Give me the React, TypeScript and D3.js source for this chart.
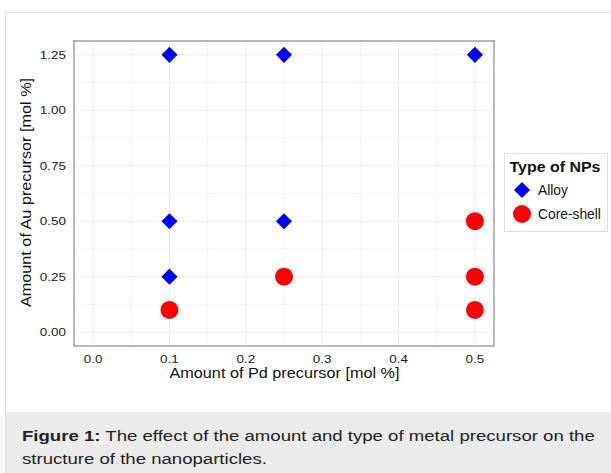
import React from 'react';
import * as d3 from 'd3';

const alloyPd = [0.1, 0.25, 0.5, 0.1, 0.25, 0.1];
const alloyAu = [1.25, 1.25, 1.25, 0.5, 0.5, 0.25];
const coreShellPd = [0.1, 0.25, 0.5, 0.5, 0.5];
const coreShellAu = [0.1, 0.25, 0.5, 0.25, 0.1];

const xTicks = [0, 0.1, 0.2, 0.3, 0.4, 0.5];
const yTicks = [0, 0.25, 0.5, 0.75, 1.0, 1.25];
const legendTitle = 'Type of NPs';
const legendLabels = ['Alloy', 'Core-shell'];

const font = 'Liberation Sans, Arial, sans-serif';

// text drawn a bit wider than the font, like the reference rendering
function Wide({ x, y, sx, rotate = 0, anchor = 'start', size, weight = 'normal', fill = '#111', dy, children }: any) {
  return (
    <g transform={`translate(${x},${y}) rotate(${rotate}) scale(${sx},1)`}>
      <text x={0} y={0} dy={dy} textAnchor={anchor} fontSize={size} fontWeight={weight} fill={fill}>{children}</text>
    </g>
  );
}

export default function App() {
  const W = 611, H = 473;
  const panel = { left: 74, right: 494, top: 41, bottom: 346 };

  const x = d3.scaleLinear().domain([-0.025, 0.525]).range([panel.left, panel.right]);
  const y = d3.scaleLinear().domain([-0.0625, 1.3125]).range([panel.bottom, panel.top]);

  const xMinor = d3.range(0.05, 0.5, 0.1);
  const yMinor = d3.range(0.125, 1.3, 0.25);

  const diamond = d3.symbol().type(d3.symbolSquare).size(130)();
  const circle = (r: number) => d3.symbol().type(d3.symbolCircle).size(Math.PI * r * r)();

  return (
    <svg width={W} height={H} style={{ position: 'absolute', left: 0, top: 0 }} fontFamily={font}>
      <rect x={0} y={0} width={W} height={H} fill="#fff" />
      {/* card */}
      <rect x={5.5} y={12.5} width={W} height={H} fill="#fff" stroke="#dcdcdc" />
      <rect x={6} y={412} width={W} height={H - 412} fill="#ebebeb" />

      {/* grid */}
      <g stroke="#f4f4f4" strokeWidth={1}>
        {xMinor.map((v, i) => <line key={'xm' + i} x1={x(v)} x2={x(v)} y1={panel.top} y2={panel.bottom} />)}
        {yMinor.map((v, i) => <line key={'ym' + i} x1={panel.left} x2={panel.right} y1={y(v)} y2={y(v)} />)}
      </g>
      <g stroke="#ececec" strokeWidth={1}>
        {xTicks.map((v, i) => <line key={'x' + i} x1={x(v)} x2={x(v)} y1={panel.top} y2={panel.bottom} />)}
        {yTicks.map((v, i) => <line key={'y' + i} x1={panel.left} x2={panel.right} y1={y(v)} y2={y(v)} />)}
      </g>

      {/* points */}
      {alloyPd.map((v, i) => (
        <path key={'a' + i} d={diamond!} fill="#0000ff"
          transform={`translate(${x(v)},${y(alloyAu[i])}) rotate(45)`} />
      ))}
      {coreShellPd.map((v, i) => (
        <path key={'c' + i} d={circle(9)!} fill="#ff0000"
          transform={`translate(${x(v)},${y(coreShellAu[i])})`} />
      ))}

      <rect x={panel.left} y={panel.top} width={panel.right - panel.left} height={panel.bottom - panel.top}
        fill="none" stroke="#a0a0a0" strokeWidth={1.5} />

      {/* tick labels */}
      {xTicks.map((v, i) => (
        <Wide key={'xt' + i} x={x(v)} y={362.5} sx={1.17} anchor="middle" size={11.5} fill="#222">
          {d3.format('.1f')(v)}
        </Wide>
      ))}
      {yTicks.map((v, i) => (
        <Wide key={'yt' + i} x={panel.left - 8} y={y(v)} dy="0.35em" sx={1.17} anchor="end" size={11.5} fill="#222">
          {d3.format('.2f')(v)}
        </Wide>
      ))}

      {/* axis titles */}
      <Wide x={(panel.left + panel.right) / 2 + 0.5} y={378} sx={1.16} anchor="middle" size={14}>
        Amount of Pd precursor [mol %]
      </Wide>
      <Wide x={30.5} y={(panel.top + panel.bottom) / 2 - 1} rotate={-90} sx={1.16} anchor="middle" size={14}>
        Amount of Au precursor [mol %]
      </Wide>

      {/* legend */}
      <rect x={504.5} y={153.5} width={103} height={78} fill="#fff" stroke="#dcdcdc" />
      <Wide x={509.5} y={172} sx={1.1} size={14.5} weight="bold">{legendTitle}</Wide>
      <path d={diamond!} fill="#0000ff" transform="translate(522,190) rotate(45)" />
      <path d={circle(9)!} fill="#ff0000" transform="translate(522,214)" />
      <text x={538} y={190.5} dy="0.35em" fontSize={13.8} fill="#111">{legendLabels[0]}</text>
      <text x={538} y={214.5} dy="0.35em" fontSize={13.8} fill="#111">{legendLabels[1]}</text>

      {/* caption */}
      <g transform="translate(22,441) scale(1.2,1)">
        <text x={0} y={0} fontSize={15.5} fill="#222">
          <tspan fontWeight="bold">Figure 1:</tspan> The effect of the amount and type of metal precursor on the
        </text>
      </g>
      <Wide x={22} y={464} sx={1.2} size={15.5} fill="#222">structure of the nanoparticles.</Wide>
    </svg>
  );
}
